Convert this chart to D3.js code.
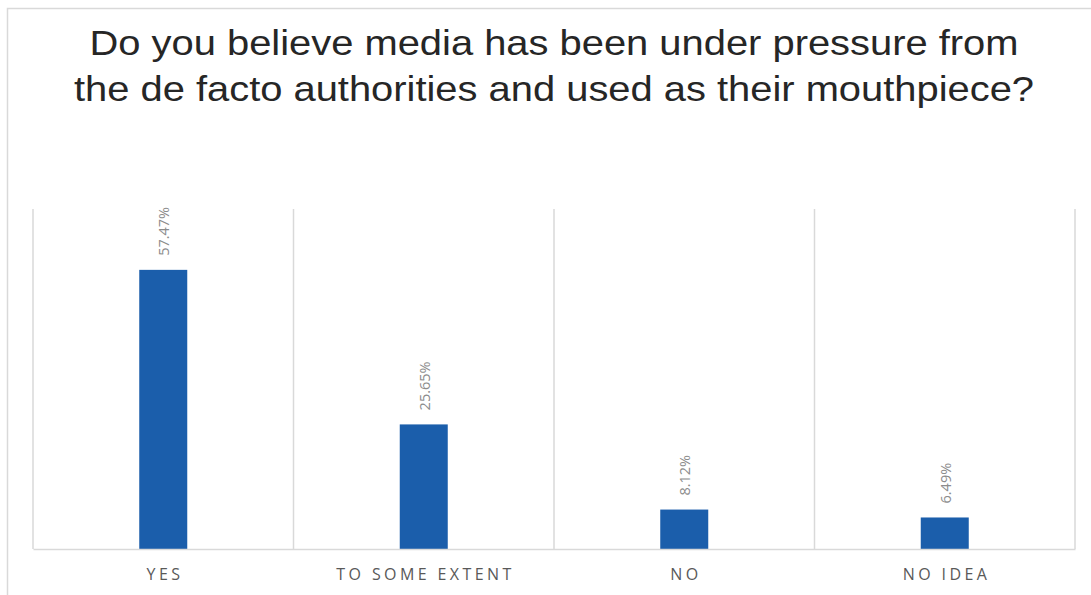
<!DOCTYPE html>
<html>
<head>
<meta charset="utf-8">
<script src="https://cdn.jsdelivr.net/npm/d3@7"></script>
<style>
  html, body { margin: 0; padding: 0; background: #fff; }
  svg { display: block; }
</style>
</head>
<body>
<svg id="chart" width="1091" height="595"></svg>
<script>
// Survey answers and their shares (%)
const categories = ["YES", "TO SOME EXTENT", "NO", "NO IDEA"];
const values = [57.47, 25.65, 8.12, 6.49];
const valueLabels = ["57.47%", "25.65%", "8.12%", "6.49%"];
const titleLines = [
  "Do you believe media has been under pressure from",
  "the de facto authorities and used as their mouthpiece?"
];

const W = 1091, H = 595;
const plot = { left: 33, right: 1075, top: 209, bottom: 549 };
const cx = (plot.left + plot.right) / 2;

const svg = d3.select("#chart");

// Outer frame of the chart
svg.append("rect")
  .attr("x", 7.5).attr("y", 8.5)
  .attr("width", W + 20).attr("height", H + 20)
  .attr("fill", "none").attr("stroke", "#d9d9d9").attr("stroke-width", 1.5);

// Title (set slightly wide)
const title = svg.append("text")
  .attr("text-anchor", "middle")
  .attr("transform", `translate(${cx},0) scale(1.14,1)`)
  .attr("font-family", "'Liberation Sans', Arial, sans-serif")
  .attr("font-size", 35)
  .attr("fill", "#262626");
titleLines.forEach((t, i) => {
  title.append("tspan")
    .attr("x", 0)
    .attr("y", 55 + i * 46)
    .text(t);
});

const x = d3.scaleBand()
  .domain(categories)
  .range([plot.left, plot.right])
  .paddingInner(0).paddingOuter(0);

const y = d3.scaleLinear()
  .domain([0, 70])
  .range([plot.bottom, plot.top]);

// Vertical category separators
const seps = d3.range(categories.length + 1).map(i =>
  i < categories.length ? x(categories[i]) : x(categories[categories.length - 1]) + x.bandwidth());
svg.append("g").selectAll("line")
  .data(seps)
  .join("line")
  .attr("x1", d => d).attr("x2", d => d)
  .attr("y1", plot.top).attr("y2", plot.bottom)
  .attr("stroke", "#d9d9d9").attr("stroke-width", 1.5);

// Bars
const barW = 48;
const data = categories.map((c, i) => ({ c, v: values[i], label: valueLabels[i] }));
svg.append("g").selectAll("rect")
  .data(data)
  .join("rect")
  .attr("x", d => x(d.c) + x.bandwidth() / 2 - barW / 2)
  .attr("y", d => y(d.v))
  .attr("width", barW)
  .attr("height", d => y(0) - y(d.v))
  .attr("fill", "#1b5eab");

// Baseline axis
const xAxis = svg.append("g")
  .attr("transform", `translate(0,${plot.bottom})`)
  .call(d3.axisBottom(x).tickSize(0).tickPadding(20));
xAxis.select(".domain").attr("stroke", "#d9d9d9").attr("stroke-width", 1.5);
xAxis.selectAll("text")
  .attr("font-family", "'Open Sans', 'Noto Sans', sans-serif")
  .attr("font-size", 16)
  .attr("letter-spacing", "3.4px")
  .attr("dx", "1.7px")
  .attr("fill", "#595959");

// Rotated value labels above bars
svg.append("g").selectAll("text")
  .data(data)
  .join("text")
  .attr("transform", d => `translate(${x(d.c) + x.bandwidth() / 2 + 6},${y(d.v) - 14}) rotate(-90)`)
  .attr("text-anchor", "start")
  .attr("font-family", "'Open Sans', 'Noto Sans', sans-serif")
  .attr("font-size", 14.5)
  .attr("fill", "#8c8c8c")
  .text(d => d.label);
</script>
</body>
</html>
